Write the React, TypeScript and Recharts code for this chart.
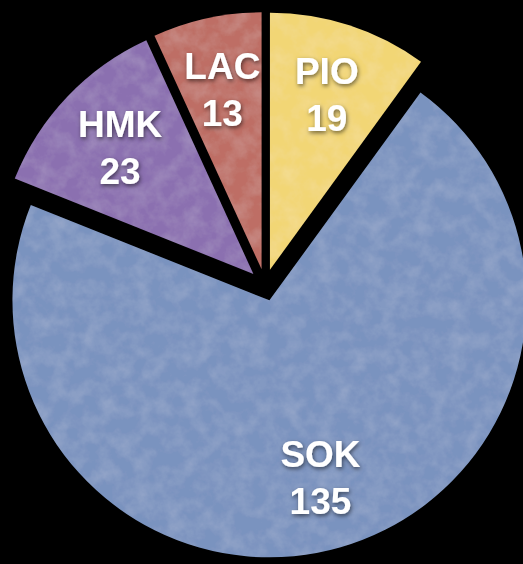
import React from "react";
import { PieChart, Pie, Cell, Sector } from "recharts";

const teams = ["PIO", "SOK", "HMK", "LAC"];
const counts = [19, 135, 23, 13];
const colors = ["#F2D675", "#7A93BF", "#8B70B0", "#BE6E65"];

const data = teams.map((name, i) => ({ name, value: counts[i] }));

const RADIAN = Math.PI / 180;
const EXPLODE = 16;

function ExplodedSector(props: any) {
  const { cx, cy, midAngle } = props;
  const dx = EXPLODE * Math.cos(-midAngle * RADIAN);
  const dy = EXPLODE * Math.sin(-midAngle * RADIAN);
  return <Sector {...props} cx={cx + dx} cy={cy + dy} stroke="none" filter="url(#paper)" />;
}

function renderLabel(props: any) {
  const { cx, cy, midAngle, name, value } = props;
  const r = 200;
  const x = cx + r * Math.cos(-midAngle * RADIAN);
  const y = cy + r * Math.sin(-midAngle * RADIAN);
  const style = {
    fontFamily: "'Liberation Sans', Arial, sans-serif",
    fontWeight: 700,
    fontSize: 37,
  };
  return (
    <g filter="url(#textShadow)">
      <text x={x} y={y - 23} textAnchor="middle" dominantBaseline="central" fill="#ffffff" style={style}>
        {name}
      </text>
      <text x={x} y={y + 24} textAnchor="middle" dominantBaseline="central" fill="#ffffff" style={style}>
        {value}
      </text>
    </g>
  );
}

export default function App() {
  return (
    <div style={{ width: 523, height: 564, background: "#000" }}>
      <style>{`body{margin:0;background:#000}`}</style>
      <PieChart width={523} height={564} margin={{ top: 0, right: 0, bottom: 0, left: 0 }}>
        <defs>
          <filter id="paper" x="-5%" y="-5%" width="110%" height="110%">
            <feTurbulence type="fractalNoise" baseFrequency="0.06" numOctaves="4" seed="7" result="noise" />
            <feColorMatrix
              in="noise"
              type="matrix"
              values="0 0 0 0 1  0 0 0 0 1  0 0 0 0 1  0.22 0 0 0 -0.08"
              result="light"
            />
            <feComposite in="light" in2="SourceGraphic" operator="in" result="tex" />
            <feMerge>
              <feMergeNode in="SourceGraphic" />
              <feMergeNode in="tex" />
            </feMerge>
          </filter>
          <filter id="textShadow" x="-20%" y="-20%" width="140%" height="140%">
            <feDropShadow dx="1" dy="2" stdDeviation="2" floodColor="#000" floodOpacity="0.55" />
          </filter>
        </defs>
        <Pie
          data={data}
          dataKey="value"
          nameKey="name"
          cx={265}
          cy={285}
          outerRadius={257}
          startAngle={90}
          endAngle={-270}
          stroke="none"
          shape={ExplodedSector}
          labelLine={false}
          label={renderLabel}
          isAnimationActive={false}
        >
          {data.map((d, i) => (
            <Cell key={d.name} fill={colors[i]} />
          ))}
        </Pie>
      </PieChart>
    </div>
  );
}
